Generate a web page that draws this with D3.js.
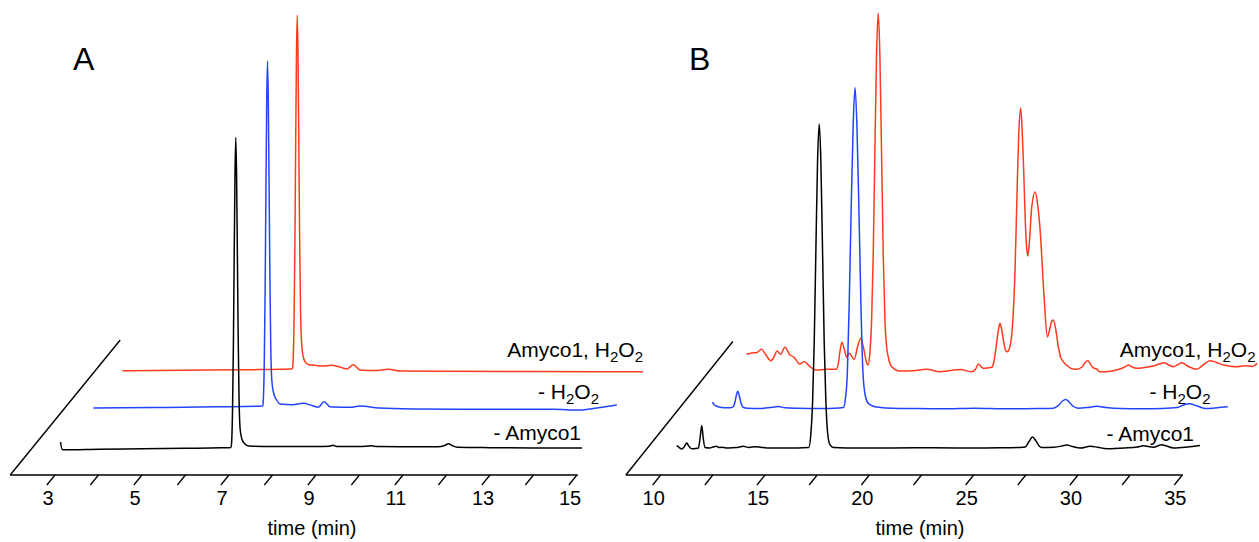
<!DOCTYPE html>
<html>
<head>
<meta charset="utf-8">
<script src="https://cdn.jsdelivr.net/npm/d3@7"></script>
<style>
  body { margin: 0; background: #fff; }
  text { font-family: "Liberation Sans", Arial, sans-serif; fill: #000; }
</style>
</head>
<body>
<svg id="chart" width="1259" height="542"></svg>
<script>
// ---- tick values / labels ----
var ticksA = [3, 4, 5, 6, 7, 8, 9, 10, 11, 12, 13, 14, 15];
var labelsA = [3, 5, 7, 9, 11, 13, 15];
var ticksB = [10, 12.5, 15, 17.5, 20, 22.5, 25, 27.5, 30, 32.5, 35];
var labelsB = [10, 15, 20, 25, 30, 35];

// trace names, [text, isSubscript]
var traceNames = [
  [["- Amyco1", false]],
  [["- H", false], ["2", true], ["O", false], ["2", true]],
  [["Amyco1, H", false], ["2", true], ["O", false], ["2", true]]
];

// ---- panel A series: [time (min), signal] ----
var aNoEnzyme = [[2.62,6],[2.66,-1.5],[2.72,-1.8],[3.5,-1.2],[4.5,-0.8],[5.5,-0.3],[6.3,0.2],[6.54,0.6],
  [6.55,3],[6.575,37],[6.595,102],[6.613,189],[6.632,273],[6.65,310.5],[6.668,273],[6.687,193],[6.705,112],
  [6.725,50],[6.75,19],[6.79,9],[6.85,4.5],[6.95,2],[7.5,1.5],[8.5,1.5],[8.8,1.8],[8.89,2.7],[8.97,1.6],
  [9.5,1.5],[9.77,2.2],[9.9,1.4],[10.5,1.2],[11.3,1.2],[11.45,2.5],[11.54,4.2],[11.63,2.3],[11.75,0.8],
  [12.5,0.3],[13.5,0],[14.61,0]];
var aNoH2O2 = [[2.625,0],[4,0.5],[5.5,1.2],[6.52,2],[6.53,5.5],[6.555,44],[6.575,116],[6.593,214],[6.612,307],
  [6.63,347],[6.648,308],[6.667,219],[6.685,130],[6.705,60],[6.73,27],[6.77,15],[6.84,8],[6.92,4],[7.2,3.2],
  [7.45,4.7],[7.65,2.5],[7.8,0.7],[7.93,6.3],[8.07,1.3],[8.4,0.8],[8.53,0.7],[8.75,2],[9.19,0],[10,-1],
  [11,-1.3],[12,-1.3],[13.19,-1.3],[13.79,-2],[14.2,0],[14.66,3]];
var aFull = [[2.6,0.3],[4,0.8],[5.5,1.3],[6.23,1.7],[6.51,2.3],[6.52,5.5],[6.545,45],[6.565,119],[6.583,219],
  [6.602,315],[6.62,356],[6.638,316],[6.657,225],[6.675,135],[6.695,63],[6.72,29],[6.76,14],[6.82,8],[6.9,6.3],
  [6.98,6],[7.2,5],[7.41,5.7],[7.6,4],[7.76,2],[7.91,6.3],[8.06,1],[8.4,0.5],[8.72,1.7],[9,0],[10,-0.3],
  [12,-0.5],[14.57,-0.7]];

// ---- panel B series ----
var bNoEnzyme = [[9.73,2.3],[9.85,0.5],[9.97,-1],[10.1,1.5],[10.21,5],[10.32,1.5],[10.45,-0.7],[10.62,-0.5],
  [10.77,0],[10.85,10],[10.93,22.6],[11,10],[11.09,0.5],[11.3,0],[11.5,1.2],[11.65,1.7],[11.75,0.5],[11.89,0.7],
  [12.2,0],[12.6,0.4],[12.92,1.7],[13.2,0.5],[13.49,1.3],[13.75,0.8],[14.05,0],[15,0],[16.06,0.5],[16.16,14],
  [16.24,44],[16.32,105],[16.4,197],[16.48,286],[16.56,324],[16.64,286],[16.72,197],[16.8,105],[16.88,46],
  [16.96,16],[17.06,4],[17.24,0.5],[18.5,0],[20,0],[22,0.3],[24,0],[25.5,0.3],[26.2,0.5],[26.43,1],[26.6,6],
  [26.78,11],[26.95,7],[27.1,2],[27.23,0.5],[27.8,0.8],[28.2,2],[28.43,3],[28.7,1.5],[29.07,0],[29.55,1.7],
  [29.9,0.8],[30.35,-0.7],[31.2,0],[31.8,1],[32.1,2.3],[32.58,0.7],[32.98,3.3],[33.2,2],[33.54,0],[34.2,1],
  [34.81,2.6]];
var bNoH2O2 = [[9.92,6.3],[10,4],[10.1,2.5],[10.21,1.7],[10.5,0.8],[10.8,0.8],[10.93,2],[11,6],[11.07,13],
  [11.14,17.3],[11.21,13],[11.3,5],[11.4,1.3],[11.6,0.3],[12.2,0],[12.8,1.2],[13.08,2],[13.4,0.8],[14,0.3],
  [15,0],[16,0.5],[16.2,1],[16.3,10],[16.39,35],[16.48,104],[16.57,195],[16.67,283],[16.76,321],[16.85,283],
  [16.95,195],[17.04,106],[17.13,40],[17.24,14],[17.4,5],[17.64,2.3],[18,1],[18.58,0.3],[19.5,0],[21,-0.3],
  [22.5,0.3],[24,-0.3],[25.5,0],[26.27,0.3],[26.5,3],[26.7,7.5],[26.86,9],[27,7],[27.2,2.5],[27.46,0.3],
  [27.9,1],[28.35,2.3],[28.8,1],[29.5,0],[30.5,-0.3],[31.5,0],[32.2,1],[32.5,3.5],[32.79,4.7],[33.1,3],
  [33.54,0],[33.9,0.3],[34.3,1.2],[34.63,1.7]];
var bFull = [[10.12,16.7],[10.36,18],[10.6,18.3],[10.84,21.7],[11.05,16],[11.28,10.3],[11.4,12.7],[11.59,20],
  [11.75,16.7],[11.96,23.7],[12.2,16],[12.36,14.3],[12.5,11],[12.65,7],[12.89,9.3],[13.16,4.3],[13.45,1],
  [13.96,1.7],[14.41,1.7],[14.52,7.7],[14.6,20],[14.69,28.7],[14.8,22],[14.92,13.7],[15.04,17.7],[15.28,11.7],
  [15.45,25],[15.59,32.7],[15.72,24],[15.85,10],[15.95,6],[16.03,18],[16.11,48],[16.19,115],[16.27,218],
  [16.35,316],[16.43,358],[16.51,316],[16.59,218],[16.67,118],[16.75,52],[16.83,25],[16.91,14],[17.08,4.3],
  [17.47,0],[18.11,0.3],[18.75,1.7],[19.39,-0.7],[19.9,0.5],[20.35,1.5],[20.91,-0.7],[21.1,2],[21.23,7],
  [21.35,4.5],[21.47,2.7],[21.65,3],[21.87,3.7],[21.98,10],[22.08,24],[22.19,41],[22.27,47.7],[22.36,40],
  [22.46,27],[22.55,20],[22.62,19.3],[22.75,25],[22.88,50],[22.98,95],[23.1,191],[23.18,243],[23.26,263],
  [23.34,235],[23.39,208],[23.5,140],[23.55,122],[23.6,115],[23.66,125],[23.79,164],[23.95,179],[24.05,170],
  [24.19,141],[24.38,74],[24.54,34],[24.65,42],[24.75,50],[24.82,51],[24.92,44],[25.05,26],[25.17,14],
  [25.3,9.3],[25.5,5],[25.75,2],[25.94,1.7],[26.2,4],[26.35,8.5],[26.47,10.3],[26.6,7],[26.75,3],[26.9,2],
  [27.03,-0.7],[27.3,-0.7],[27.86,1],[28.2,3.5],[28.42,6],[28.6,4],[28.82,2.7],[29.2,3.5],[29.62,5],
  [30.13,8.3],[30.35,6],[30.58,4.3],[30.8,6.5],[30.98,8.3],[31.3,4.5],[31.7,1.7],[32,6],[32.33,10.3],
  [32.65,8.5],[32.97,6],[33.3,4.8],[33.61,4.3],[34,5.3],[34.25,5],[34.35,4.6],[34.6,7.7]];

// ---- layout ----
var FRONT_Y = 475, TICK_LEN = 10;
var colors = ["#000000", "#2343ff", "#ff3a1f"];
var panels = [
  { letter: "A", letterX: 73, series: [aNoEnzyme, aNoH2O2, aFull],
    dom: [3, 15], rng: [55, 577], axisDom: [1.97, 15.02], slope: 0.815,
    depth: [27, 67, 104], depthMax: 135, ticks: ticksA, labels: labelsA, titleX: 312,
    nameRight: [581, 599, 643], nameY: [440, 399, 357] },
  { letter: "B", letterX: 689, series: [bNoEnzyme, bNoH2O2, bFull],
    dom: [10, 35], rng: [660.7, 1182.3], axisDom: [8.33, 35.03], slope: 0.8015,
    depth: [27, 66.5, 104], depthMax: 133.5, ticks: ticksB, labels: labelsB, titleX: 920,
    nameRight: [1194, 1210.5, 1255.5], nameY: [441, 398.5, 357] }
];

var svg = d3.select("#chart");
var y = d3.scaleLinear().domain([0, 400]).range([0, 400]);

panels.forEach(function (p) {
  var x = d3.scaleLinear().domain(p.dom).range(p.rng);
  var g = svg.append("g");
  var xl = x(p.axisDom[0]), xr = x(p.axisDom[1]);

  // front time axis + depth axis
  g.append("line").attr("x1", xl).attr("y1", FRONT_Y).attr("x2", xr).attr("y2", FRONT_Y)
    .attr("stroke", "#000").attr("stroke-width", 1.4);
  g.append("line").attr("x1", xl).attr("y1", FRONT_Y)
    .attr("x2", xl + p.slope * p.depthMax).attr("y2", FRONT_Y - p.depthMax)
    .attr("stroke", "#000").attr("stroke-width", 1.4);

  // slanted ticks
  g.selectAll(".tk").data(p.ticks).enter().append("line")
    .attr("x1", function (d) { return x(d); }).attr("y1", FRONT_Y)
    .attr("x2", function (d) { return x(d) - TICK_LEN * p.slope; }).attr("y2", FRONT_Y + TICK_LEN)
    .attr("stroke", "#000").attr("stroke-width", 1.3);

  g.selectAll(".lb").data(p.labels).enter().append("text")
    .attr("x", function (d) { return x(d) - 7; }).attr("y", 505)
    .attr("text-anchor", "middle").style("font-size", "20px")
    .text(function (d) { return d; });

  g.append("text").attr("x", p.titleX).attr("y", 535).attr("text-anchor", "middle")
    .style("font-size", "20px").text("time (min)");

  g.append("text").attr("x", p.letterX).attr("y", 70).style("font-size", "32px").text(p.letter);

  // traces, back to front
  [2, 1, 0].forEach(function (i) {
    var dy = p.depth[i], dx = dy * p.slope;
    var line = d3.line()
      .x(function (d) { return x(d[0]) + dx; })
      .y(function (d) { return FRONT_Y - dy - y(d[1]); })
      .curve(d3.curveMonotoneX);
    g.append("path").datum(p.series[i]).attr("d", line)
      .attr("fill", "none").attr("stroke", colors[i]).attr("stroke-width", 1.5)
      .attr("stroke-linejoin", "round");
  });

  // trace names
  traceNames.forEach(function (parts, i) {
    var t = g.append("text").attr("x", p.nameRight[i]).attr("y", p.nameY[i])
      .attr("text-anchor", "end").style("font-size", "21px");
    var shifted = false;
    parts.forEach(function (s) {
      var ts = t.append("tspan").text(s[0]);
      if (s[1]) { ts.style("font-size", "15px").attr("dy", shifted ? 0 : 5); shifted = true; }
      else { ts.attr("dy", shifted ? -5 : 0); shifted = false; }
    });
  });
});
</script>
</body>
</html>
